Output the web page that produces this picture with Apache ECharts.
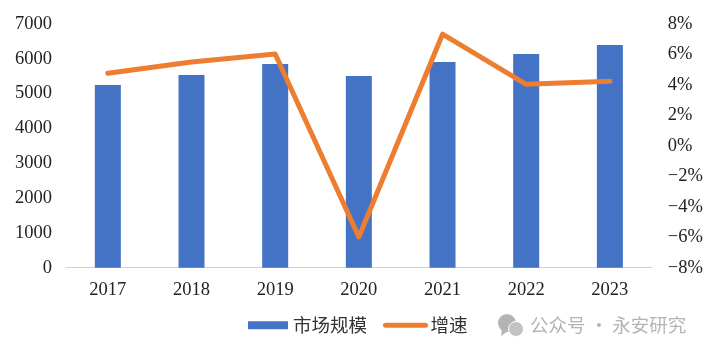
<!DOCTYPE html>
<html>
<head>
<meta charset="utf-8">
<style>
  html, body { margin: 0; padding: 0; background: #fff; }
  #chart { width: 709px; height: 354px; }
</style>
<script src="https://cdn.jsdelivr.net/npm/echarts@6/dist/echarts.min.js"></script>
</head>
<body>
<div id="chart"></div>
<script>
const years = ['2017', '2018', '2019', '2020', '2021', '2022', '2023'];
const marketSize = [5250, 5537, 5853, 5508, 5911, 6141, 6400];
const growth = [4.77, 5.5, 6.03, -5.98, 7.33, 4.04, 4.24];

const textFont = '"Liberation Serif", "Noto Sans CJK SC", serif';
const legendFont = '"Noto Sans CJK SC", "Liberation Serif", serif';
const markGrey = '#b4b4b4';

const chart = echarts.init(document.getElementById('chart'), null, { renderer: 'canvas' });

const option = {
  animation: false,
  backgroundColor: '#fff',
  grid: { left: 66, right: 57.3, top: 24, bottom: 86.3 },
  legend: {
    left: 248,
    top: 316,
    padding: 0,
    itemGap: 16,
    itemWidth: 40,
    itemHeight: 8,
    textStyle: { fontFamily: legendFont, fontSize: 18.5, color: '#333' },
    data: [
      { name: '市场规模', icon: 'rect' },
      {
        name: '增速',
        itemStyle: { opacity: 0 }, // 隐藏图例上的圆点
        lineStyle: { color: '#ed7d31', width: 5, cap: 'round' },
      },
    ],
  },
  xAxis: {
    type: 'category',
    data: years,
    axisTick: { show: false },
    axisLine: { lineStyle: { color: '#d0d0d0', width: 1 } },
    axisLabel: { fontFamily: textFont, fontSize: 18.5, color: '#222', margin: 13 },
  },
  yAxis: [
    {
      type: 'value',
      min: 0,
      max: 7000,
      interval: 1000,
      splitLine: { show: false },
      axisLine: { show: false },
      axisTick: { show: false },
      axisLabel: {
        fontFamily: textFont,
        fontSize: 18.5,
        color: '#222',
        margin: 14,
        padding: [4, 0, 0, 0],
        formatter: (v) => String(v),
      },
    },
    {
      type: 'value',
      min: -8,
      max: 8,
      interval: 2,
      splitLine: { show: false },
      axisLine: { show: false },
      axisTick: { show: false },
      axisLabel: {
        fontFamily: textFont,
        fontSize: 18.5,
        color: '#222',
        margin: 16,
        padding: [4, 0, 0, 0],
        formatter: (v) => `${v < 0 ? '−' : ''}${Math.abs(v)}%`,
      },
    },
  ],
  series: [
    {
      name: '市场规模',
      type: 'bar',
      data: marketSize,
      barWidth: 26,
      itemStyle: { color: '#4472c4' },
    },
    {
      name: '增速',
      type: 'line',
      yAxisIndex: 1,
      data: growth,
      symbol: 'none',
      smooth: false,
      itemStyle: { color: '#ed7d31' },
      lineStyle: { color: '#ed7d31', width: 5, cap: 'round', join: 'round' },
    },
  ],
  // 水印
  graphic: [
    { type: 'circle', shape: { cx: 507, cy: 323, r: 9 }, style: { fill: markGrey } },
    { type: 'circle', shape: { cx: 516, cy: 329, r: 7.5 }, style: { fill: '#c2c2c2', stroke: '#fff', lineWidth: 1 } },
    { type: 'polygon', shape: { points: [[502, 329], [501, 336], [508, 331]] }, style: { fill: markGrey } },
    {
      type: 'text',
      left: 530,
      top: 316,
      style: {
        text: '公众号 · 永安研究',
        fontFamily: '"Noto Sans CJK SC", sans-serif',
        fontSize: 18.5,
        fill: markGrey,
      },
    },
  ],
};

chart.setOption(option);
</script>
</body>
</html>
